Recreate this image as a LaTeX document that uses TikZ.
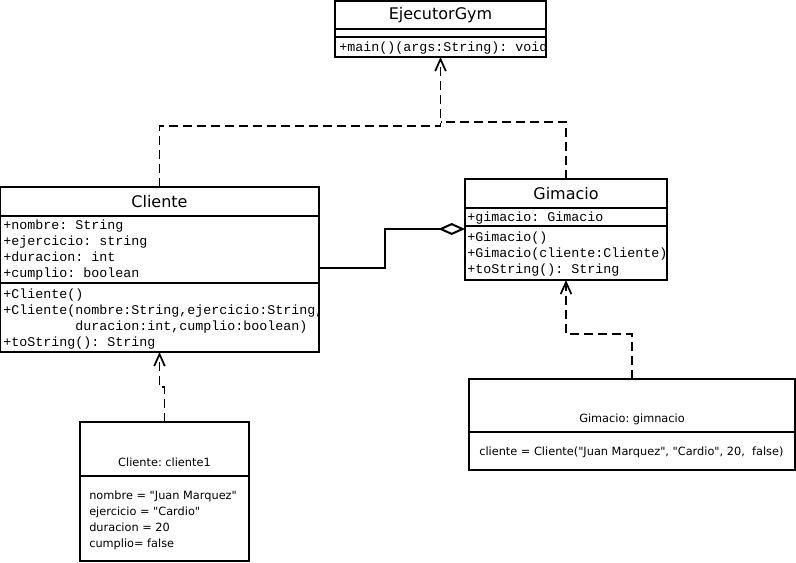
\documentclass[tikz,border=0pt]{standalone}
\usepackage{fontspec}
\newfontfamily\umlsans{DejaVu Sans}
\newfontfamily\umlmono{Liberation Mono}
\usetikzlibrary{arrows.meta, calc, positioning}
\tikzstyle{compart} = [rectangle, draw=black, line width=1.5pt, anchor=north west, inner sep=0pt, outer sep=0pt]
\tikzstyle{classname} = [font=\umlsans\fontsize{12}{14}\selectfont]
\tikzstyle{member} = [anchor=north west, align=left, inner sep=0pt, font=\umlmono\fontsize{10}{12}\selectfont\frenchspacing]
\tikzstyle{slot} = [anchor=north west, align=left, inner sep=0pt, font=\umlsans\fontsize{8.5}{12}\selectfont\frenchspacing]
\tikzstyle{objname} = [anchor=base, inner sep=0pt, font=\umlsans\fontsize{8.5}{12}\selectfont\frenchspacing]
\tikzstyle{dep} = [line width=1.3pt, dash pattern=on 7pt off 3.5pt, -{Straight Barb[length=9pt,width=8pt]}]
\tikzstyle{agg} = [line width=1.5pt, -{Diamond[open,length=20pt,width=9pt]}]
\begin{document}
\begin{tikzpicture}[x=0.75pt, y=-0.75pt]
		\useasboundingbox (0,0) rectangle (796,562);
		% EjecutorGym
		\node (ejeName) [compart, classname, minimum width=211*0.75pt, minimum height=28*0.75pt] at (335,1) {EjecutorGym};
		\node (ejeEmpty) [compart, minimum width=211*0.75pt, minimum height=8*0.75pt] at (ejeName.south west) {};
		\node (ejeMeth) [compart, minimum width=211*0.75pt, minimum height=20*0.75pt] at (ejeEmpty.south west) {};
		\begin{scope}
			\clip (ejeMeth.north west) rectangle (ejeMeth.south east);
			\node (ejeMethTxt) [member] at ($(ejeMeth.north west)+(4,3)$) {\strut+main()(args:String): void};
		\end{scope}
		% Cliente
		\node (cliName) [compart, classname, minimum width=319*0.75pt, minimum height=29*0.75pt] at (0,187) {Cliente};
		\node (cliAttr) [compart, minimum width=319*0.75pt, minimum height=67*0.75pt] at (cliName.south west) {};
		\node (cliMeth) [compart, minimum width=319*0.75pt, minimum height=69*0.75pt] at (cliAttr.south west) {};
		\node (cliAttrTxt) [member] at ($(cliAttr.north west)+(3,2)$) {\strut+nombre: String\\+ejercicio: string\\+duracion: int\\+cumplio: boolean};
		\begin{scope}
			\clip (cliMeth.north west) rectangle (cliMeth.south east);
			\node (cliMethTxt) [member] at ($(cliMeth.north west)+(3,4)$) {\strut+Cliente()\\+Cliente(nombre:String,ejercicio:String,\\\phantom{+Cliente(}duracion:int,cumplio:boolean)\\+toString(): String};
		\end{scope}
		% Gimacio
		\node (gimName) [compart, classname, minimum width=202*0.75pt, minimum height=29*0.75pt] at (465,179) {Gimacio};
		\node (gimAttr) [compart, minimum width=202*0.75pt, minimum height=18*0.75pt] at (gimName.south west) {};
		\node (gimMeth) [compart, minimum width=202*0.75pt, minimum height=54*0.75pt] at (gimAttr.south west) {};
		\node (gimAttrTxt) [member] at ($(gimAttr.north west)+(2,2)$) {\strut+gimacio: Gimacio};
		\node (gimMethTxt) [member] at ($(gimMeth.north west)+(2,4)$) {\strut+Gimacio()\\+Gimacio(cliente:Cliente)\\+toString(): String};
		% objects
		\node (obj1Name) [compart, minimum width=169*0.75pt, minimum height=54*0.75pt] at (80,422) {};
		\node (obj1Attr) [compart, minimum width=169*0.75pt, minimum height=85*0.75pt] at (obj1Name.south west) {};
		\node (obj1Label) [objname] at ($(obj1Name.south)+(0,-10)$) {Cliente: cliente1};
		\node (obj1Txt) [slot] at ($(obj1Attr.north west)+(9,12)$) {\strut nombre = "Juan Marquez"\\ejercicio = "Cardio"\\duracion = 20\\cumplio= false};
		\node (obj2Name) [compart, minimum width=326*0.75pt, minimum height=53*0.75pt] at (469,379) {};
		\node (obj2Attr) [compart, minimum width=326*0.75pt, minimum height=38*0.75pt] at (obj2Name.south west) {};
		\node (obj2Label) [objname] at ($(obj2Name.south)+(0,-10)$) {Gimacio: gimnacio};
		\node (obj2Txt) [slot] at ($(obj2Attr.north west)+(10,12)$) {\strut cliente = Cliente("Juan Marquez", "Cardio", 20,\ \ false)};
		% connectors
		\draw [dep] (cliName.north) |- ($(ejeMeth.south)+(0,69)$) -- (ejeMeth.south);
		\draw [dep, -] (gimName.north) |- ($(ejeMeth.south)+(0,65)$);
		\draw [dep] (obj1Name.north) -- ++(0,-35) -| (cliMeth.south);
		\draw [dep] (obj2Name.north) |- ($(gimMeth.south)+(0,54)$) -- (gimMeth.south);
		\draw [agg] ($(cliAttr.south east)+(0,-15)$) -- ++(66,0) |- ($(gimMeth.north west)+(0,3)$);
\end{tikzpicture}
\end{document}
